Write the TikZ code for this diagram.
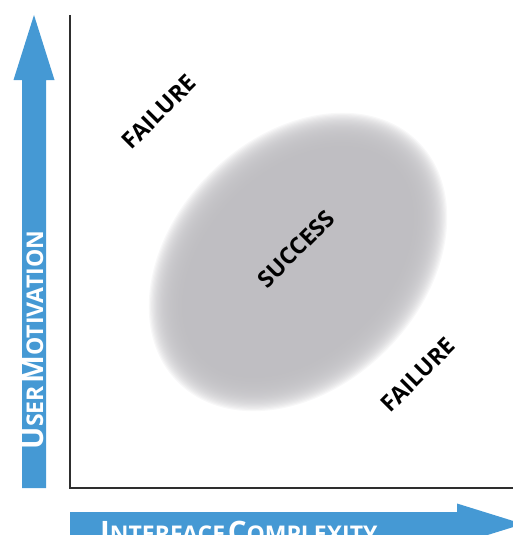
\documentclass[tikz,border=0pt]{standalone}
\usepackage{fontspec}
\setmainfont{Open Sans}
\usepackage{tikz}
\definecolor{axisblue}{HTML}{4599D4}
\definecolor{blobgray}{HTML}{BDBCC0}
\definecolor{axisdark}{HTML}{2E2E2E}
\newcommand{\bigsc}[2]{{\fontsize{29.5}{29.5}\selectfont #1}{\fontsize{23}{23}\selectfont #2}}

\begin{document}
\begin{tikzpicture}[x=1pt,y=1pt,
    arrowbody/.style={fill=axisblue,draw=none},
    axislabel/.style={text=white,font=\bfseries,inner sep=0pt,anchor=base},
    zone/.style={font=\fontsize{23}{23}\selectfont\bfseries,rotate=45,inner sep=0pt},
    blob/.style={fill=blobgray,opacity=0.11}
]
\clip (0,0) rectangle (513,-535);
\coordinate (origin) at (70,-488);
\coordinate (ytop) at (70,-15);
\coordinate (xend) at (513,-488);
\coordinate (c) at (298,-262);

% blurred success region
\foreach \k in {0,...,30}
  \fill[blob] (c) ellipse [x radius={170-1.2*\k}, y radius={125-1.2*\k}, rotate=45];

\draw[axisdark,line width=2pt] (ytop) -- (origin) -- (xend);

% axis arrows
\fill[arrowbody] (22,-488) -- (22,-80) -- (13.5,-80) -- (34,-15) -- (54.5,-80) -- (46,-80) -- (46,-488) -- cycle;
\fill[arrowbody] (70,-512) -- (457,-512) -- (457,-503.5) -- (523,-524) -- (457,-544.5) -- (457,-536) -- (70,-536) -- cycle;

\node[axislabel,rotate=90] (umot) at (43,-340) {\bigsc{U}{SER} \bigsc{M}{OTIVATION}};
\node[axislabel,anchor=base west] (icplx) at (100,-542) {\bigsc{I}{NTERFACE} \bigsc{C}{OMPLEXITY}};

\node[zone] (failtop) at (159,-112) {FAILURE};
\node[zone] (succ) at (296,-249) {SUCCESS};
\node[zone] (failbot) at (418,-375) {FAILURE};
\end{tikzpicture}
\end{document}
